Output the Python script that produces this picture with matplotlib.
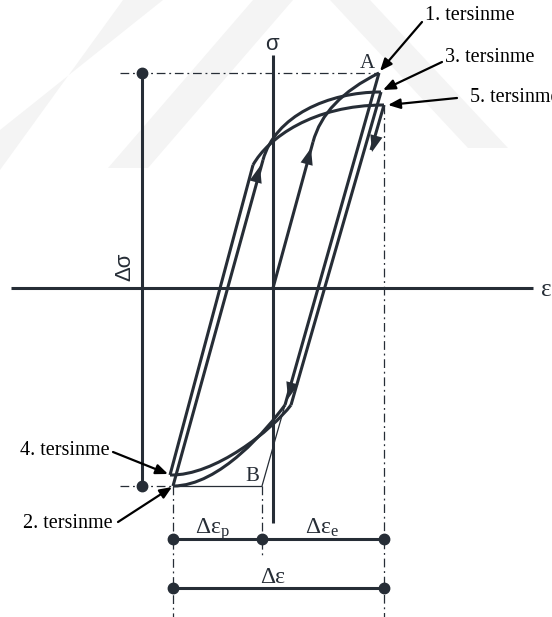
import matplotlib.pyplot as plt
from matplotlib.path import Path
from matplotlib.patches import PathPatch, Polygon

plt.rcParams['mathtext.fontset'] = 'custom'
plt.rcParams['mathtext.rm'] = 'Liberation Serif'
plt.rcParams['mathtext.it'] = 'Liberation Serif:italic'

ink = '#262d36'
serif = 'Liberation Serif'
sans = 'Liberation Sans'

# reversal points of the loop (strain, stress), origin = axes crossing
pt_A = [106, 215]
pt_2 = [-100, -198]
pt_3 = [108, 196]
pt_4 = [-103, -187]
pt_5 = [111, 183]
pt_B = [-11, -198]

# where the elastic (straight) parts end
knee_0 = [40, 146]      # first loading
knee_2 = [-10, 128]     # reloading after 2
knee_4 = [-20, 123]     # reloading after 4
knee_A = [12, -117]     # unloading after A
knee_3 = [18, -117]     # unloading after 3
tip_5 = [98, 138]

# bezier control points of the plastic parts
ctrl_0 = [[51, 188]]
ctrl_2 = [[2, 172], [55, 196]]
ctrl_4 = [[-5, 150], [40, 183]]
ctrl_A = [[-5, -140], [-53, -198]]
ctrl_3 = [[-1, -142], [-58, -188]]

eps_axis = [-262, 260]
sig_axis = [-235, 233]
dim_p = -251            # level of the  d-eps_p / d-eps_e bar
dim_tot = -300          # level of the  d-eps bar
guide_left = -153
page_bottom = -329

labels = ['1. tersinme', '2. tersinme', '3. tersinme', '4. tersinme', '5. tersinme']
label_pos = [[152, 273], [-160, -235], [172, 231], [-163, -162], [197, 191]]
label_tail = [[149, 266], [-155, -234], [169, 226], [-160, -164], [184, 190]]
label_head = [[107, 217], [-101, -199], [110, 198], [-105, -186], [115, 183]]

fig = plt.figure(figsize=(5.52, 6.17), dpi=100)
ax = fig.add_axes([0, 0, 1, 1])
ax.set_xlim(-273, 279)
ax.set_ylim(-329, 288)
ax.axis('off')

# faint background stripes
bands = [
    [[-273, 118], [-273, 158], [-110, 288], [-150, 288]],
    [[-165, 120], [-125, 120], [20, 288], [-20, 288]],
    [[57, 288], [97, 288], [235, 140], [195, 140]],
]
for b in bands:
    ax.add_patch(Polygon(b, closed=True, fc='#f4f4f4', ec='none', zorder=0))


def line(p, q, lw=2.2, **kw):
    ax.plot([p[0], q[0]], [p[1], q[1]], color=ink, lw=lw,
            solid_capstyle='butt', **kw)


def curve(p, ctrl, q, lw=2.2):
    code = Path.CURVE3 if len(ctrl) == 1 else Path.CURVE4
    verts = [p] + ctrl + [q]
    codes = [Path.MOVETO] + [code] * (len(ctrl) + 1)
    ax.add_patch(PathPatch(Path(verts, codes), fill=False, ec=ink, lw=lw))


def head(tip, tail):
    ax.annotate('', xy=tip, xytext=tail,
                arrowprops=dict(arrowstyle='-|>,head_length=0.8,head_width=0.3',
                                color=ink, lw=0, mutation_scale=15,
                                shrinkA=0, shrinkB=0))


# axes
line([eps_axis[0], 0], [eps_axis[1], 0])
line([0, sig_axis[0]], [0, sig_axis[1]])
ax.text(-1, 244, 'σ', family=sans, fontsize=16, ha='center', va='center', color=ink)
ax.text(273, -2, 'ε', family=serif, fontsize=18, ha='center', va='center', color=ink)

# guide lines
dd = dict(lw=0.9, ls=(0, (7, 3, 1.5, 3)))
line([guide_left, pt_A[1]], pt_A, **dd)
line([guide_left, pt_2[1]], pt_2, **dd)
line([pt_5[0], pt_5[1]], [pt_5[0], page_bottom], **dd)
line(pt_2, [pt_2[0], page_bottom], **dd)
line(pt_B, [pt_B[0], dim_tot + 30], **dd)

# stress range
line([-131, pt_A[1]], [-131, pt_2[1]])
ax.plot([-131, -131], [pt_A[1], pt_2[1]], 'o', color=ink, ms=7.5)
ax.text(-148, 21, 'Δσ', family=sans, fontsize=16, rotation=90,
        ha='center', va='center', color=ink)

# loop: elastic parts
line([0, 0], knee_0)
line(pt_A, knee_A)
line(pt_2, knee_2)
line(pt_3, knee_3)
line(pt_4, knee_4)
line(pt_5, tip_5)

# loop: plastic parts
curve(knee_0, ctrl_0, pt_A)
curve(knee_2, ctrl_2, pt_3)
curve(knee_4, ctrl_4, pt_5)
curve(knee_A, ctrl_A, pt_2)
curve(knee_3, ctrl_3, pt_4)

# elastic line extended to B
line(knee_A, pt_B, lw=0.9)
line(pt_B, pt_2, lw=0.9)
ax.text(-21, -188, 'B', family=serif, fontsize=15, ha='center', va='center', color=ink)
ax.text(94, 224, 'A', family=serif, fontsize=15, ha='center', va='center', color=ink)

# direction heads
head([38, 140], [35, 129])
head([-13, 122], [-16, 111])
head([99, 136], [102, 147])
head([15, -111], [18, -100])

# reversal labels
for txt, pos, tail, tip in zip(labels, label_pos, label_tail, label_head):
    ha = 'left' if pos[0] > 0 else 'right'
    ax.text(pos[0], pos[1], txt, family=serif, fontsize=14.5, ha=ha, va='center')
    ax.annotate('', xy=tip, xytext=tail,
                arrowprops=dict(arrowstyle='-|>,head_length=0.6,head_width=0.25',
                                color='black', lw=1.6, mutation_scale=12,
                                shrinkA=0, shrinkB=0))

# strain ranges
line([pt_2[0], dim_p], [pt_5[0], dim_p])
ax.plot([pt_2[0], pt_B[0], pt_5[0]], [dim_p] * 3, 'o', color=ink, ms=7.5)
line([pt_2[0], dim_tot], [pt_5[0], dim_tot])
ax.plot([pt_2[0], pt_5[0]], [dim_tot] * 2, 'o', color=ink, ms=7.5)
ax.text(-61, dim_p + 5, r'Δε$_\mathrm{p}$', family=serif, fontsize=17,
        ha='center', va='baseline', color=ink)
ax.text(49, dim_p + 5, r'Δε$_\mathrm{e}$', family=serif, fontsize=17,
        ha='center', va='baseline', color=ink)
ax.text(0, dim_tot + 5, 'Δε', family=serif, fontsize=17,
        ha='center', va='baseline', color=ink)

fig.savefig('out.png', dpi=100)
